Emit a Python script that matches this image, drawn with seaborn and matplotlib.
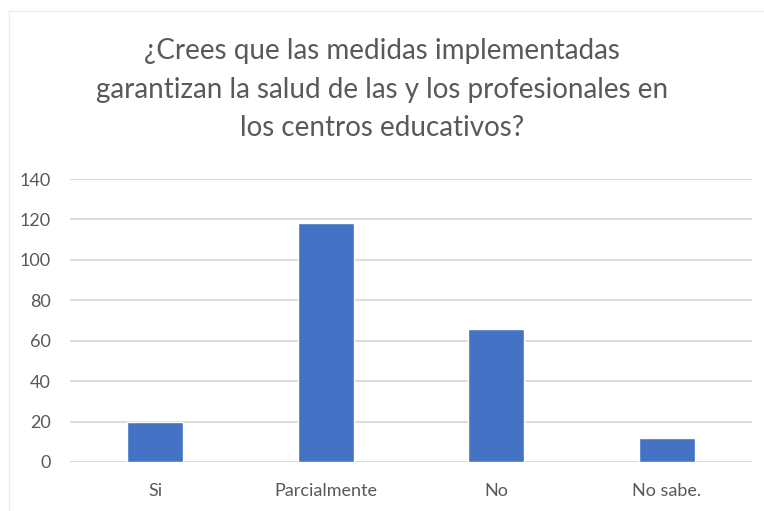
import pandas as pd
import matplotlib
matplotlib.use('Agg')
import matplotlib.pyplot as plt
import seaborn as sns
from matplotlib.patches import Rectangle

CATEGORIES = ['Si', 'Parcialmente', 'No', 'No sabe.']
VALUES = [20, 118, 66, 12]
Y_TICKS = [0, 20, 40, 60, 80, 100, 120, 140]

TITLE = ('¿Crees que las medidas implementadas\n'
         'garantizan la salud de las y los profesionales en\n'
         'los centros educativos?')

BAR_COLOUR = '#4472C4'
GRID_COLOUR = '#D9D9D9'
TEXT_COLOUR = '#595959'

sns.set_style('white')
plt.rcParams['font.family'] = ['Lato', 'DejaVu Sans']

df = pd.DataFrame({'respuesta': CATEGORIES, 'total': VALUES})

fig = plt.figure(figsize=(7.64, 5.11), dpi=100)
ax = fig.add_axes([70 / 764, 1 - 462 / 511, 682 / 764, 283 / 511])

sns.barplot(data=df, x='respuesta', y='total', color=BAR_COLOUR,
            width=0.33, saturation=1, ax=ax, zorder=3)

ax.set_ylim(0, 140)
ax.set_xlim(-0.5, len(CATEGORIES) - 0.5)
ax.set_yticks(Y_TICKS)
ax.yaxis.grid(True, color=GRID_COLOUR, linewidth=1.3, zorder=0)
ax.xaxis.grid(False)
for side in ['top', 'right', 'left', 'bottom']:
    ax.spines[side].set_visible(False)
ax.axhline(0, color=GRID_COLOUR, linewidth=1.3, zorder=1)

ax.set_xlabel('')
ax.set_ylabel('')
ax.tick_params(axis='x', length=0, pad=15, labelsize=13, labelcolor=TEXT_COLOUR)
ax.tick_params(axis='y', length=0, pad=14, labelsize=13, labelcolor=TEXT_COLOUR)

fig.text(0.5, 1 - 38 / 511, TITLE, ha='center', va='top', fontsize=20,
         color=TEXT_COLOUR, linespacing=1.6)

# light border of the chart area
fig.patches.append(Rectangle((9 / 764, -0.01), 1, 1 - 11 / 511 + 0.01,
                             transform=fig.transFigure, fill=False,
                             edgecolor='#EDEDED', linewidth=1))

fig.savefig('out.png', dpi=100)
